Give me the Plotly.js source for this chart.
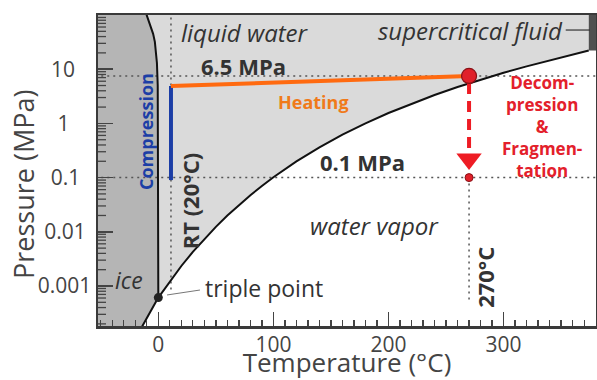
<!DOCTYPE html>
<html>
<head>
<meta charset="utf-8">
<script src="https://cdn.plot.ly/plotly-3.0.1.min.js"></script>
<style>html,body{margin:0;padding:0;background:#fff;}#chart{width:597px;height:380px;}</style>
</head>
<body>
<div id="chart"></div>
<script>
// Phase boundaries (temperature in °C, pressure in MPa)
const meltT = [-13, -10, -8, -6, -4.5, -3, -2, -1.2, -0.5, 0, 0.01];
const meltP = [150, 100, 78, 58, 45, 32, 22, 13, 5, 0.1, 0.000612];
const subT = [0.01, -5, -10, -15, -20];
const subP = [0.000612, 0.000402, 0.00026, 0.000165, 0.000103];
const vapT = [0.01, 10, 20, 30, 40, 50, 60, 70, 80, 90, 100, 120, 140, 160, 180, 200, 220, 240, 260, 280, 300, 320, 340, 360, 374];
const vapP = [0.000612, 0.00123, 0.00234, 0.00425, 0.00738, 0.01235, 0.01995, 0.0312, 0.0474, 0.0702, 0.1014, 0.1985, 0.3615, 0.6182, 1.0028, 1.5549, 2.3196, 3.3469, 4.6923, 6.4165, 8.5879, 11.284, 14.594, 18.666, 22.06];
const critT = 374, critP = 22.06;
const edgeTmin = -60, edgeTmax = 400, edgePmin = 0.0001, edgePmax = 150;

// Process path
const rtT = 11;
const heatT = [11, 270];
const heatP = [4.9, 7.5];
const compT = [11, 11];
const compP = [4.9, 0.09];
const pHigh = 7.5, pLow = 0.1;
const decT = 270;
const decDashP = [5.56, 0.284];
const decHeadP = 0.22;
const rtLineP = [150, 0.000843];
const t270LineP = [0.1, 0.00055];
const tripleT = 0.01, tripleP = 0.000612;
const tripleLeaderT = [7.6, 36.2], tripleLeaderP = [0.000683, 0.000843];
const scLeaderT = [354, 375], scLeaderP = [52.8, 52.8];

// Axes
const xRange = [-52.4, 380.3];
const yRangeLog = [-3.738, 2.0];
const xTicks = [0, 100, 200, 300];
const yTicks = [0.001, 0.01, 0.1, 1, 10];
const NB = '\u00a0';
const yTickText = ['0.001', '0.01' + NB, '0.1' + NB + NB, '1' + NB + NB + NB + NB, '10' + NB + NB + NB];
const yMinorTicks = [];
for (let k = -4; k <= 1; k++) for (let m = 2; m <= 9; m++) yMinorTicks.push(m * Math.pow(10, k));

// Labels [text, T, P, size]
const labels = [
  ['<i>liquid water</i>', 75.2, 46.6, 24],
  ['<b>6.5 MPa</b>', 73.6, 11.5, 22],
  ['<i>water vapor</i>', 187.8, 0.0133, 24],
  ['<i>ice</i>', -25.4, 0.00129, 23],
  ['<b>0.1 MPa</b>', 177.8, 0.194, 22]
];
const decLines = ['Decom-', 'pression', '&', 'Fragmen-', 'tation'];
const decCenterT = 333.4, decCenterP = 0.895;

const DARK = '#333333';
const RED = '#e3202b';
const TICK = '#444';
const FONT = 'Open Sans, sans-serif';

const W = 597, H = 380, ML = 98, MR = 1, MT = 15, MB = 54;
const pxPerT = (W - ML - MR) / (xRange[1] - xRange[0]);

const iceT = [edgeTmin].concat(meltT, subT, [edgeTmin]);
const iceP = [edgePmax].concat(meltP, subP, [edgePmin]);
const liqT = meltT.concat(vapT, [critT]);
const liqP = meltP.concat(vapP, [edgePmax]);
const scT = [critT, edgeTmax, edgeTmax, critT];
const scP = [critP, critP, edgePmax, edgePmax];

// minor log ticks of the pressure axis, drawn inside the left frame
function yTickSegs(vals, lenPx) {
  const xs = [], ys = [];
  const right = xRange[0] + lenPx / pxPerT;
  vals.forEach(v => { xs.push(xRange[0], right, null); ys.push(v, v, null); });
  return {x: xs, y: ys};
}

const dotted = {color: '#555', width: 1.5, dash: '2px,4px'};
const traces = [
  {x: iceT, y: iceP, fill: 'toself', fillcolor: '#b5b5b5', line: {width: 0}, mode: 'lines'},
  {x: liqT, y: liqP, fill: 'toself', fillcolor: '#dadada', line: {width: 0}, mode: 'lines'},
  {x: scT, y: scP, fill: 'toself', fillcolor: '#4f4f4f', line: {width: 0}, mode: 'lines'},
  {x: [rtT, rtT], y: rtLineP, mode: 'lines', line: dotted},
  {x: [edgeTmin, edgeTmax], y: [pHigh, pHigh], mode: 'lines', line: dotted},
  {x: [edgeTmin, edgeTmax], y: [pLow, pLow], mode: 'lines', line: dotted},
  {x: [decT, decT], y: t270LineP, mode: 'lines', line: dotted},
  {x: meltT, y: meltP, mode: 'lines', line: {color: '#111', width: 2}},
  {x: subT, y: subP, mode: 'lines', line: {color: '#111', width: 2}},
  {x: vapT, y: vapP, mode: 'lines', line: {color: '#111', width: 2}},
  {x: tripleLeaderT, y: tripleLeaderP, mode: 'lines', line: {color: '#777', width: 1}},
  {x: scLeaderT, y: scLeaderP, mode: 'lines', line: {color: '#333', width: 1.2}},
  {x: compT, y: compP, mode: 'lines', line: {color: '#1c3ea6', width: 4}},
  {x: heatT, y: heatP, mode: 'lines', line: {color: '#ff6a10', width: 4}},
  {x: [decT, decT], y: decDashP, mode: 'lines', line: {color: '#ee1c24', width: 4, dash: '11px,7px'}},
  {x: [decT], y: [decHeadP], mode: 'markers', marker: {symbol: 'triangle-down', size: 22, color: '#ee1c24'}},
  {x: [decT], y: [pHigh], mode: 'markers', marker: {size: 15, color: '#e0202a', line: {color: '#8a1015', width: 1.2}}},
  {x: [decT], y: [pLow], mode: 'markers', marker: {size: 8, color: '#e0202a', line: {color: '#8a1015', width: 1}}},
  {x: [tripleT], y: [tripleP], mode: 'markers', marker: {size: 9, color: '#222'}},
  Object.assign(yTickSegs(yMinorTicks, 8), {mode: 'lines', line: {color: TICK, width: 1.3}, connectgaps: false})
];
traces.forEach(t => { t.showlegend = false; t.hoverinfo = 'skip'; });

const ann = [];
labels.forEach(l => ann.push({text: l[0], x: l[1], y: Math.log10(l[2]), xref: 'x', yref: 'y', showarrow: false, font: {family: FONT, size: l[3], color: DARK}}));
ann.push({text: '<i>supercritical fluid</i>', x: 353, y: Math.log10(52.8), xref: 'x', yref: 'y', xanchor: 'right', showarrow: false, font: {family: FONT, size: 24, color: DARK}});
ann.push({text: 'triple point', x: 38.8, y: Math.log10(0.000919), xref: 'x', yref: 'y', xanchor: 'left', showarrow: false, font: {family: FONT, size: 23, color: DARK}});
ann.push({text: '<b>Heating</b>', x: 134.5, y: Math.log10(2.48), xref: 'x', yref: 'y', showarrow: false, font: {family: FONT, size: 18, color: '#f07a1a'}});
ann.push({text: '<b>Compression</b>', x: -10.7, y: Math.log10(0.724), xref: 'x', yref: 'y', textangle: -90, showarrow: false, font: {family: FONT, size: 18, color: '#1c3ea6'}});
ann.push({text: '<b>RT (20°C)</b>', x: 27.5, y: Math.log10(0.038), xref: 'x', yref: 'y', textangle: -90, showarrow: false, font: {family: FONT, size: 22, color: DARK}});
ann.push({text: '<b>270°C</b>', x: 283.8, y: Math.log10(0.00147), xref: 'x', yref: 'y', textangle: -90, showarrow: false, font: {family: FONT, size: 22, color: DARK}});
ann.push({text: '<b>' + decLines.join('<br>') + '</b>', x: decCenterT, y: Math.log10(decCenterP), xref: 'x', yref: 'y', showarrow: false, align: 'center', font: {family: FONT, size: 17, color: RED}});
ann.push({text: 'Pressure (MPa)', x: -0.1486, y: 0.4566, xref: 'paper', yref: 'paper', xanchor: 'center', yanchor: 'middle', textangle: -90, showarrow: false, font: {family: FONT, size: 27, color: '#444'}});

const axCommon = {showgrid: false, zeroline: false, showline: true, mirror: true, linecolor: '#3a3a3a', linewidth: 2.5,
  layer: 'above traces', ticks: 'inside', tickcolor: TICK, tickwidth: 1.5, tickfont: {family: FONT, size: 21, color: '#444'}};
const layout = {
  width: W, height: H,
  margin: {l: ML, r: MR, t: MT, b: MB},
  paper_bgcolor: '#fff', plot_bgcolor: '#fff',
  font: {family: FONT, color: '#444'},
  xaxis: Object.assign({
    range: xRange, tickmode: 'array', tickvals: xTicks, ticklen: 14, ticklabelstandoff: -2,
    minor: {ticks: 'inside', ticklen: 6, tickwidth: 1.3, tickcolor: TICK, tickmode: 'linear', tick0: 0, dtick: 10},
    title: {text: 'Temperature (°C)', font: {family: FONT, size: 26, color: '#444'}}
  }, axCommon),
  yaxis: Object.assign({
    type: 'log', range: yRangeLog, tickmode: 'array', tickvals: yTicks, ticktext: yTickText, ticklen: 15
  }, axCommon),
  annotations: ann
};

Plotly.newPlot('chart', traces, layout, {displayModeBar: false, staticPlot: true});
</script>
</body>
</html>
